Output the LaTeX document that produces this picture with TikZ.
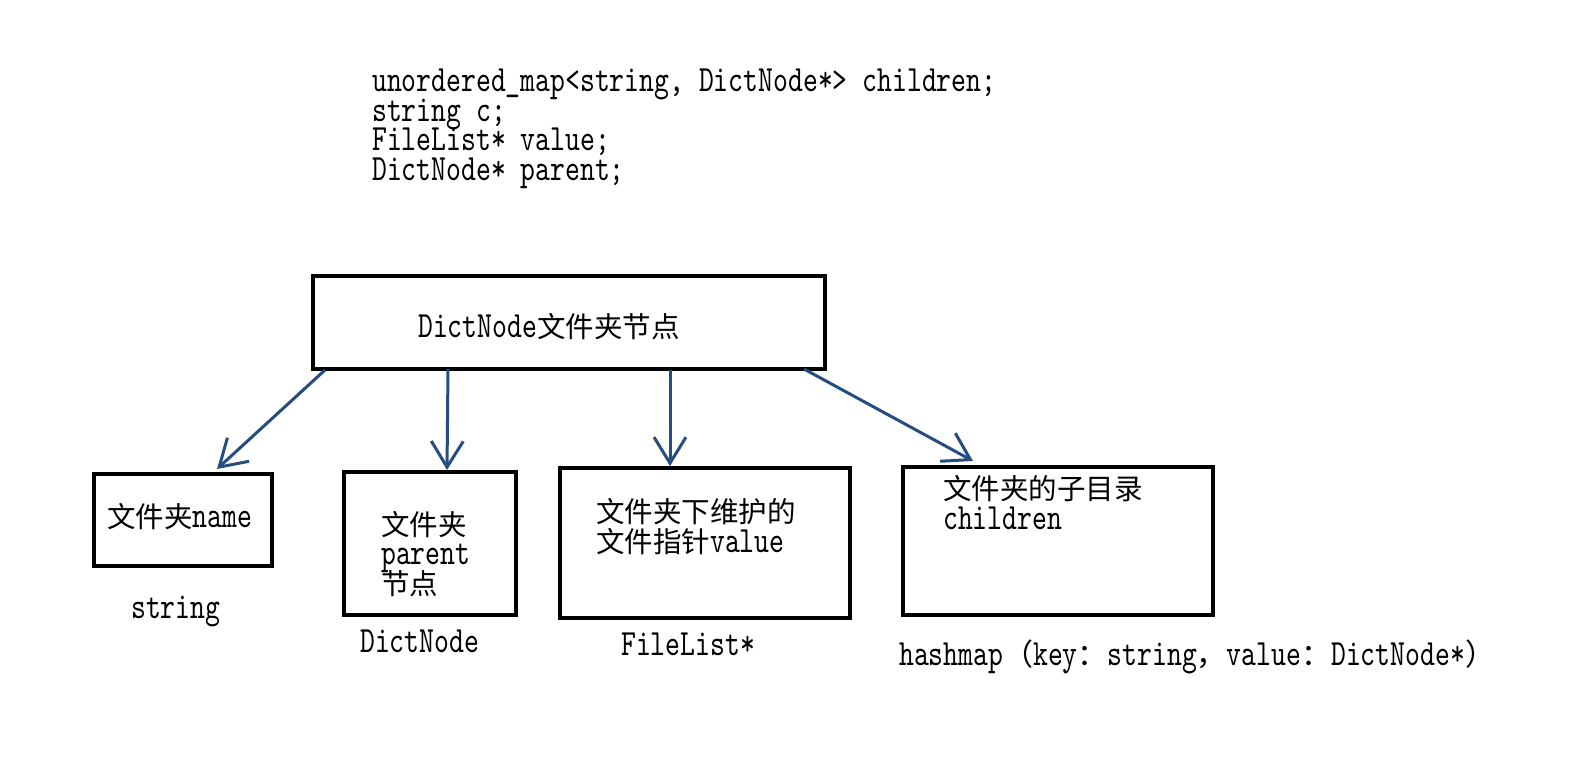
\documentclass[tikz,border=0pt]{standalone}
\usepackage{fontspec}
\usetikzlibrary{arrows.meta}
\newfontfamily\codefont{lmmono10-regular.otf}[FakeStretch=0.765]
\newfontfamily\cjkfont{Noto Sans CJK SC}
\newcommand\zh[1]{{\cjkfont\fontsize{28.5}{29.5}\selectfont #1}}
\newcommand\zp[1]{{\cjkfont\fontsize{30}{29.5}\selectfont #1}}
\newcommand\tightlines{\lineskiplimit=-100pt\relax\lineskip=0pt\relax}
\definecolor{arrowblue}{RGB}{38,76,128}
\tikzset{
  txt/.style={anchor=base west, inner sep=0pt, align=left,
    font=\codefont\fontsize{37}{29.5}\selectfont\tightlines},
  boxx/.style={draw=black, line width=3.2pt},
  arr/.style={draw=arrowblue, line width=3pt, -{Straight Barb[length=26pt,width=32pt,line width=3pt]}}
}
\begin{document}
\begin{tikzpicture}[x=1pt,y=-1pt]
\useasboundingbox (0,0) rectangle (1571,765);
\fill[white] (0,0) rectangle (1571,765);
% code text (anchor at baseline of the last line)
\node[txt] (code) at (372,180) {unordered\_map<string, DictNode*> children;\\string c;\\FileList* value;\\DictNode* parent;};
% boxes
\draw[boxx] (313,276) rectangle (825,369);
\coordinate (m1) at (325,370);
\coordinate (m2) at (448,369);
\coordinate (m3) at (670,370);
\coordinate (m4) at (804,369);
\node[txt] (mt) at (418,337) {DictNode\zh{文件夹节点}};
\draw[boxx] (94,474) rectangle (272,566);
\draw[boxx] (344,472) rectangle (516,615);
\draw[boxx] (560,468) rectangle (850,618);
\draw[boxx] (903,467) rectangle (1213,615);
\coordinate (t1) at (217,469);
\coordinate (t2) at (447,470);
\coordinate (t3) at (670,466);
\coordinate (t4) at (973,461);
% box texts
\node[txt] (b1) at (107,527) {\zh{文件夹}name};
\node[txt] (b2) at (381,594) {\zh{文件夹}\\parent\\\zh{节点}};
\node[txt] (b3) at (596,552) {\zh{文件夹下维护的}\\\zh{文件指针}value};
\node[txt] (b4) at (943,529) {\zh{文件夹的子目录}\\children};
% type labels
\node[txt] (s1) at (131,618) {string};
\node[txt] (s2) at (360,652) {DictNode};
\node[txt] (s3) at (621,655) {FileList*};
\node[txt] (s4) at (899,665) {hashmap\zp{（}key\zp{：}string\zp{，}value\zp{：}DictNode*\zp{）}};
% arrows
\draw[arr] (m1) -- (t1);
\draw[arr] (m2) -- (t2);
\draw[arr] (m3) -- (t3);
\draw[arr] (m4) -- (t4);
\end{tikzpicture}
\end{document}
